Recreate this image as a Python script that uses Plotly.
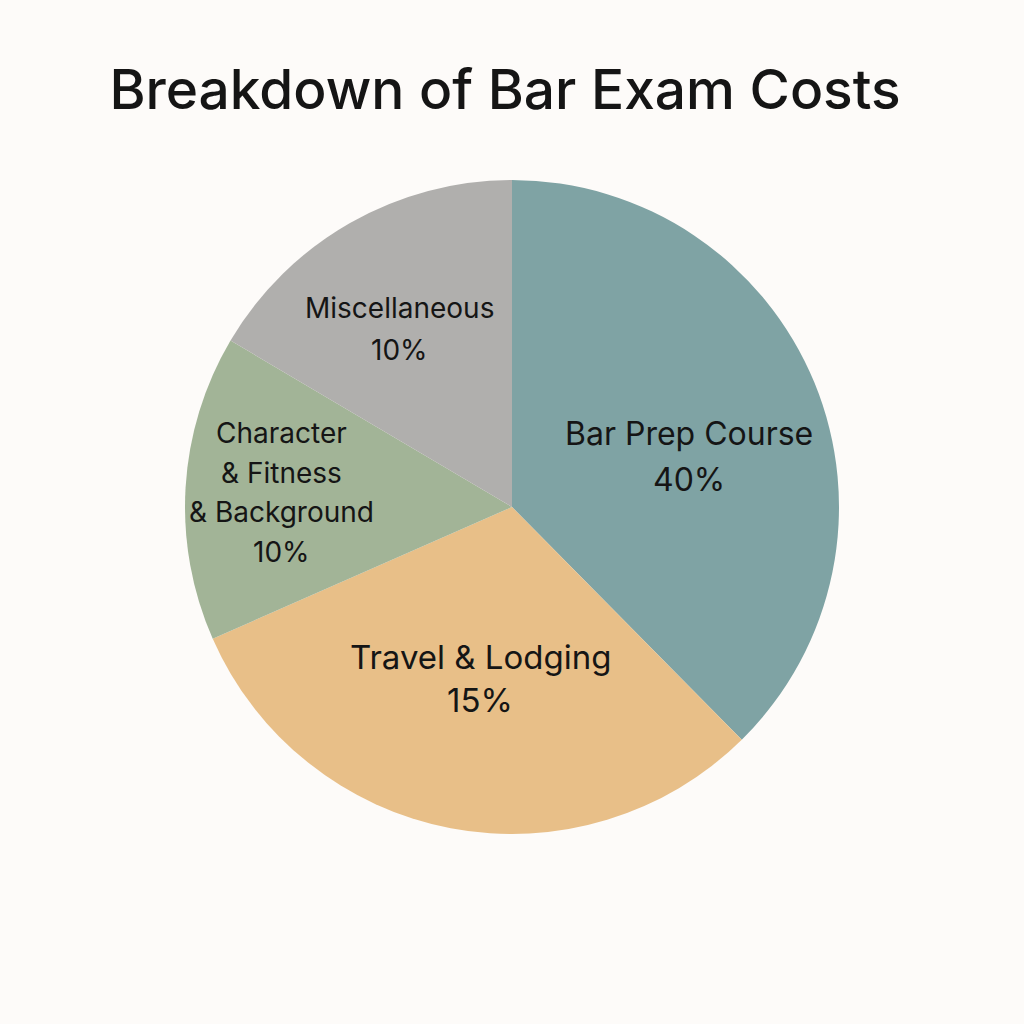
import plotly.graph_objects as go

categories = ["Bar Prep Course", "Travel & Lodging", "Character & Fitness & Background", "Miscellaneous"]
slice_sizes = [37.6, 30.8, 15.1, 16.5]
pct_labels = ["40%", "15%", "10%", "10%"]
label_lines = [["Bar Prep Course"], ["Travel & Lodging"], ["Character", "& Fitness", "& Background"], ["Miscellaneous"]]
colors = ["#7fa3a4", "#e8bf88", "#a2b497", "#b0afad"]

W = H = 1024

def px(sx, sy):
    return sx / W, 1 - sy / H

cx, cy, r = 512, 507, 327
x0, y1 = px(cx - r, cy - r)
x1, y0 = px(cx + r, cy + r)

fig = go.Figure(go.Pie(
    labels=categories,
    values=slice_sizes,
    sort=False,
    direction="clockwise",
    rotation=0,
    marker=dict(colors=colors, line=dict(width=0)),
    textinfo="none",
    hoverinfo="label",
    showlegend=False,
    domain=dict(x=[x0, x1], y=[y0, y1]),
))

# label layout: block centre x, first-line y, line step, font size
label_layout = [(689, 433, 46, 32), (480, 657, 43, 33), (281, 433, 39.5, 28), (399, 308, 42, 28)]
FONT = "Inter"
for lines, pct, (lx, ly, step, s) in zip(label_lines, pct_labels, label_layout):
    for i, t in enumerate(lines + [pct]):
        ax, ay = px(lx, ly + i * step)
        fig.add_annotation(x=ax, y=ay, xref="paper", yref="paper", xanchor="center", yanchor="middle",
                           showarrow=False, text=t,
                           font=dict(size=s, color="#151515", family=FONT))

tx, ty = px(505, 90)
fig.update_layout(
    width=W, height=H,
    margin=dict(l=0, r=0, t=0, b=0),
    paper_bgcolor="#fdfbf9",
    plot_bgcolor="#fdfbf9",
    title=dict(text="Breakdown of Bar Exam Costs", x=tx, xanchor="center", y=ty, yanchor="middle",
               font=dict(size=55, color="#151515", family=FONT, weight=500)),
)
fig.write_html("out.html", config={"displayModeBar": False},
               post_script="document.body.style.margin='0';document.body.style.background='#fdfbf9';")
